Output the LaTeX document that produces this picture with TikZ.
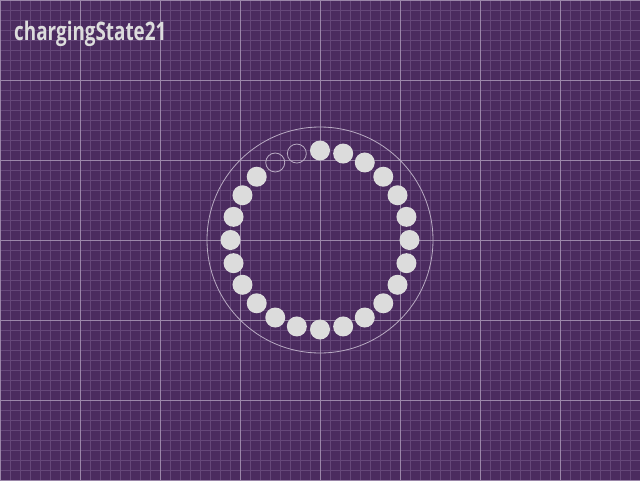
\documentclass[tikz,border=0pt]{standalone}
\usepackage{fontspec}
\setmainfont{Open Sans}[FakeStretch=0.74]
\usetikzlibrary{positioning,calc}
\usetikzlibrary{backgrounds}

\definecolor{bgpurple}{HTML}{4B2B5F}
\definecolor{minorgrid}{HTML}{654779}
\definecolor{majorgrid}{HTML}{9A86A8}
\definecolor{dotgray}{HTML}{DCDCDC}
\definecolor{ringgray}{HTML}{B9ABC3}

\tikzset{
  dot/.style={circle, fill=dotgray, minimum size=20pt, inner sep=0pt},
  emptydot/.style={circle, draw=ringgray, line width=0.8pt, minimum size=19pt, inner sep=0pt},
  ring/.style={circle, draw=ringgray, line width=0.8pt, minimum size=226pt, inner sep=0pt},
  title/.style={anchor=base west, inner sep=0pt, text=dotgray, font=\bfseries\fontsize{25.5pt}{30pt}\selectfont}
}

\begin{document}
\begin{tikzpicture}[x=1pt,y=-1pt]
  % Background and grid
  \fill[bgpurple] (0,0) rectangle (640,480);
  \useasboundingbox (0,0) rectangle (640,480);
  \draw[minorgrid, line width=0.6pt] (0,0) grid[step=10pt] (640,480);
  \draw[majorgrid, line width=0.8pt] (0,0) grid[step=80pt] (640,480);

  % Title
  \node[title] (lbl) at (14,40) {chargingState21};

  % Ring and dots
  \coordinate (ctr) at (320,240);
  \node[ring] (rim) at (ctr) {};
  \foreach \i in {0,...,23} {
    \pgfmathsetmacro{\a}{90-15*\i}
    \ifnum\i>21
      \node[emptydot] (d\i) at ($(ctr)+({-\a}:89.5)$) {};
    \else
      \node[dot] (d\i) at ($(ctr)+({-\a}:89.5)$) {};
    \fi
  }
\end{tikzpicture}
\end{document}
